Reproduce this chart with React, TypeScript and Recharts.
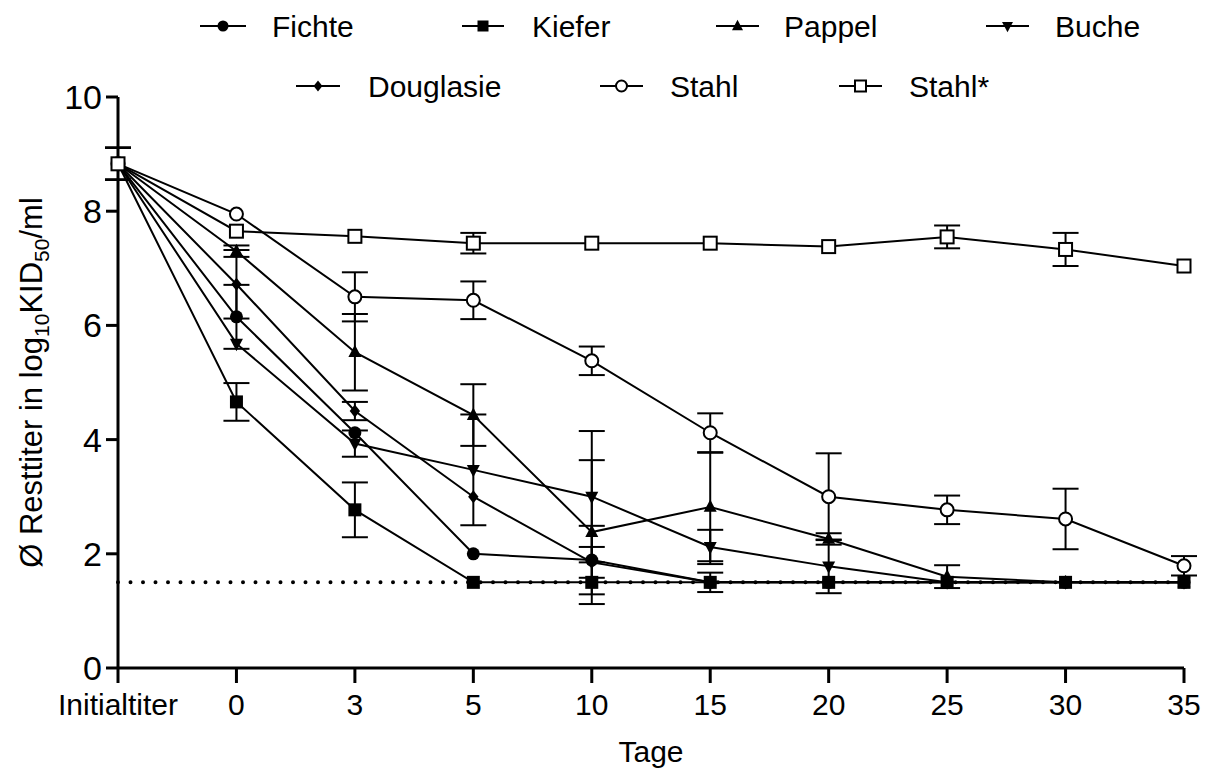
import React from "react";
import { ErrorBar, Label, Legend, Line, LineChart, ReferenceLine, XAxis, YAxis } from "recharts";

const FONT = '"Liberation Sans", Arial, sans-serif';

// Sampling days (first point is the initial titer)
const tage = ["Initialtiter", "0", "3", "5", "10", "15", "20", "25", "30", "35"];

// Mean residual titer (log10 KID50/ml) and SD per material
const fichte = [8.83, 6.15, 4.12, 2.0, 1.89, 1.5, 1.5, 1.5, 1.5, 1.5];
const fichteSd = [0.28, 0.56, 0, 0, 0.6, 0, 0, 0, 0, 0];
const kiefer = [8.83, 4.66, 2.77, 1.5, 1.5, 1.5, 1.5, 1.5, 1.5, 1.5];
const kieferSd = [0.28, 0.33, 0.48, 0, 0, 0.17, 0, 0, 0, 0];
const pappel = [8.83, 7.3, 5.53, 4.43, 2.38, 2.82, 2.26, 1.6, 1.5, 1.5];
const pappelSd = [0.28, 0.1, 0.67, 0.54, 1.26, 0.95, 0.1, 0.2, 0, 0];
const buche = [8.83, 5.68, 3.93, 3.47, 3.0, 2.12, 1.78, 1.5, 1.5, 1.5];
const bucheSd = [0.28, 0, 0.23, 0.97, 1.15, 0.3, 0.47, 0, 0, 0];
const douglasie = [8.83, 6.72, 4.5, 3.0, 1.85, 1.5, 1.5, 1.5, 1.5, 1.5];
const douglasieSd = [0.28, 0.6, 0.16, 0, 0.27, 0, 0, 0, 0, 0];
const stahl = [8.83, 7.95, 6.5, 6.44, 5.38, 4.12, 3.0, 2.77, 2.61, 1.79];
const stahlSd = [0.28, 0, 0.43, 0.33, 0.25, 0.34, 0.76, 0.25, 0.53, 0.17];
const stahlStern = [8.83, 7.65, 7.56, 7.44, 7.44, 7.44, 7.38, 7.55, 7.33, 7.04];
const stahlSternSd = [0.28, 0, 0, 0.18, 0, 0, 0, 0.2, 0.29, 0];

const yTicks = [0, 2, 4, 6, 8, 10];
const nachweisgrenze = 1.5;

type Shape = "circle" | "square" | "up" | "down" | "diamond" | "openCircle" | "openSquare";

const series: { key: string; name: string; shape: Shape; values: number[]; sd: number[] }[] = [
  { key: "fichte", name: "Fichte", shape: "circle", values: fichte, sd: fichteSd },
  { key: "kiefer", name: "Kiefer", shape: "square", values: kiefer, sd: kieferSd },
  { key: "pappel", name: "Pappel", shape: "up", values: pappel, sd: pappelSd },
  { key: "buche", name: "Buche", shape: "down", values: buche, sd: bucheSd },
  { key: "douglasie", name: "Douglasie", shape: "diamond", values: douglasie, sd: douglasieSd },
  { key: "stahl", name: "Stahl", shape: "openCircle", values: stahl, sd: stahlSd },
  { key: "stahlStern", name: "Stahl*", shape: "openSquare", values: stahlStern, sd: stahlSternSd },
];

const data = tage.map((tag, i) => {
  const row: Record<string, string | number> = { tag };
  series.forEach((s) => {
    row[s.key] = s.values[i];
    row[s.key + "Sd"] = s.sd[i];
  });
  return row;
});

function Marker({ shape, cx, cy, r = 6.5 }: { shape: Shape; cx: number; cy: number; r?: number }) {
  switch (shape) {
    case "circle":
      return <circle cx={cx} cy={cy} r={r} fill="#000" />;
    case "square":
      return <rect x={cx - r} y={cy - r} width={2 * r} height={2 * r} fill="#000" />;
    case "up":
      return (
        <polygon
          points={`${cx},${cy - r * 1.15} ${cx + r},${cy + r * 0.75} ${cx - r},${cy + r * 0.75}`}
          fill="#000"
        />
      );
    case "down":
      return (
        <polygon
          points={`${cx},${cy + r * 1.15} ${cx + r},${cy - r * 0.75} ${cx - r},${cy - r * 0.75}`}
          fill="#000"
        />
      );
    case "diamond":
      return (
        <polygon
          points={`${cx},${cy - r} ${cx + r * 0.8},${cy} ${cx},${cy + r} ${cx - r * 0.8},${cy}`}
          fill="#000"
        />
      );
    case "openCircle":
      return <circle cx={cx} cy={cy} r={r} fill="#fff" stroke="#000" strokeWidth={2} />;
    case "openSquare":
      return (
        <rect x={cx - r} y={cy - r} width={2 * r} height={2 * r} fill="#fff" stroke="#000" strokeWidth={2} />
      );
  }
}

// two-row legend above the plot
const legendLayout = [
  { row: 0, x0: 200, x1: 246, tx: 272 },
  { row: 0, x0: 462, x1: 504, tx: 532 },
  { row: 0, x0: 716, x1: 759, tx: 784 },
  { row: 0, x0: 986, x1: 1029, tx: 1055 },
  { row: 1, x0: 296, x1: 340, tx: 368 },
  { row: 1, x0: 600, x1: 643, tx: 670 },
  { row: 1, x0: 839, x1: 882, tx: 909 },
];

function LegendRows() {
  const rowY = [26, 86];
  return (
    <svg width={1212} height={120} style={{ display: "block" }}>
      {series.map((s, i) => {
        const l = legendLayout[i];
        const y = rowY[l.row];
        return (
          <g key={s.key}>
            <line x1={l.x0} x2={l.x1} y1={y} y2={y} stroke="#000" strokeWidth={2} />
            <Marker shape={s.shape} cx={(l.x0 + l.x1) / 2} cy={y} r={5.5} />
            <text x={l.tx} y={y + 11} fontFamily={FONT} fontSize={30} fill="#000">
              {s.name}
            </text>
          </g>
        );
      })}
    </svg>
  );
}

function YLabel({ viewBox }: any) {
  const cy = viewBox.y + viewBox.height / 2;
  return (
    <text
      transform={`translate(42, ${cy}) rotate(-90)`}
      textAnchor="middle"
      fontFamily={FONT}
      fontSize={31}
      fill="#000"
    >
      Ø Resttiter in log
      <tspan fontSize={21} dy={7}>10</tspan>
      <tspan dy={-7}>KID</tspan>
      <tspan fontSize={21} dy={7}>50</tspan>
      <tspan dy={-7}>/ml</tspan>
    </text>
  );
}

export default function App() {
  return (
    <div style={{ position: "absolute", left: 0, top: 0, background: "#fff" }}>
      <LineChart width={1212} height={770} data={data} margin={{ top: 97, right: 28, bottom: 0, left: 0 }}>
        <Legend
          layout="vertical"
          align="center"
          verticalAlign="middle"
          wrapperStyle={{ top: 0, left: 0, width: 1212, height: 120 }}
          content={<LegendRows />}
        />
        <XAxis
          dataKey="tag"
          type="category"
          interval={0}
          padding={{ left: 0, right: 0 }}
          height={102}
          axisLine={{ stroke: "#000", strokeWidth: 3 }}
          tickLine={{ stroke: "#000", strokeWidth: 3 }}
          tickSize={15}
          tickMargin={11}
          tick={{ fill: "#000", fontSize: 30, fontFamily: FONT }}
        >
          <Label
            value="Tage"
            position="insideBottom"
            offset={8}
            style={{ fill: "#000", fontSize: 30, fontFamily: FONT }}
          />
        </XAxis>
        <YAxis
          type="number"
          domain={[0, 10]}
          ticks={yTicks}
          width={118}
          axisLine={{ stroke: "#000", strokeWidth: 3 }}
          tickLine={{ stroke: "#000", strokeWidth: 3 }}
          tickSize={12}
          tickMargin={4}
          tick={{ fill: "#000", fontSize: 34, fontFamily: FONT }}
        >
          <Label content={<YLabel />} />
        </YAxis>
        <ReferenceLine
          y={nachweisgrenze}
          stroke="#000"
          strokeWidth={4}
          strokeDasharray="0 12.5"
          strokeLinecap="round"
        />
        {series.map((s) => (
          <Line
            key={s.key}
            dataKey={s.key}
            name={s.name}
            stroke="#000"
            strokeWidth={2}
            isAnimationActive={false}
            activeDot={false}
            legendType="none"
            dot={(p: any) => <Marker key={`${s.key}-${p.index}`} shape={s.shape} cx={p.cx} cy={p.cy} />}
          >
            <ErrorBar dataKey={s.key + "Sd"} direction="y" width={13} stroke="#000" strokeWidth={2} />
          </Line>
        ))}
      </LineChart>
    </div>
  );
}
